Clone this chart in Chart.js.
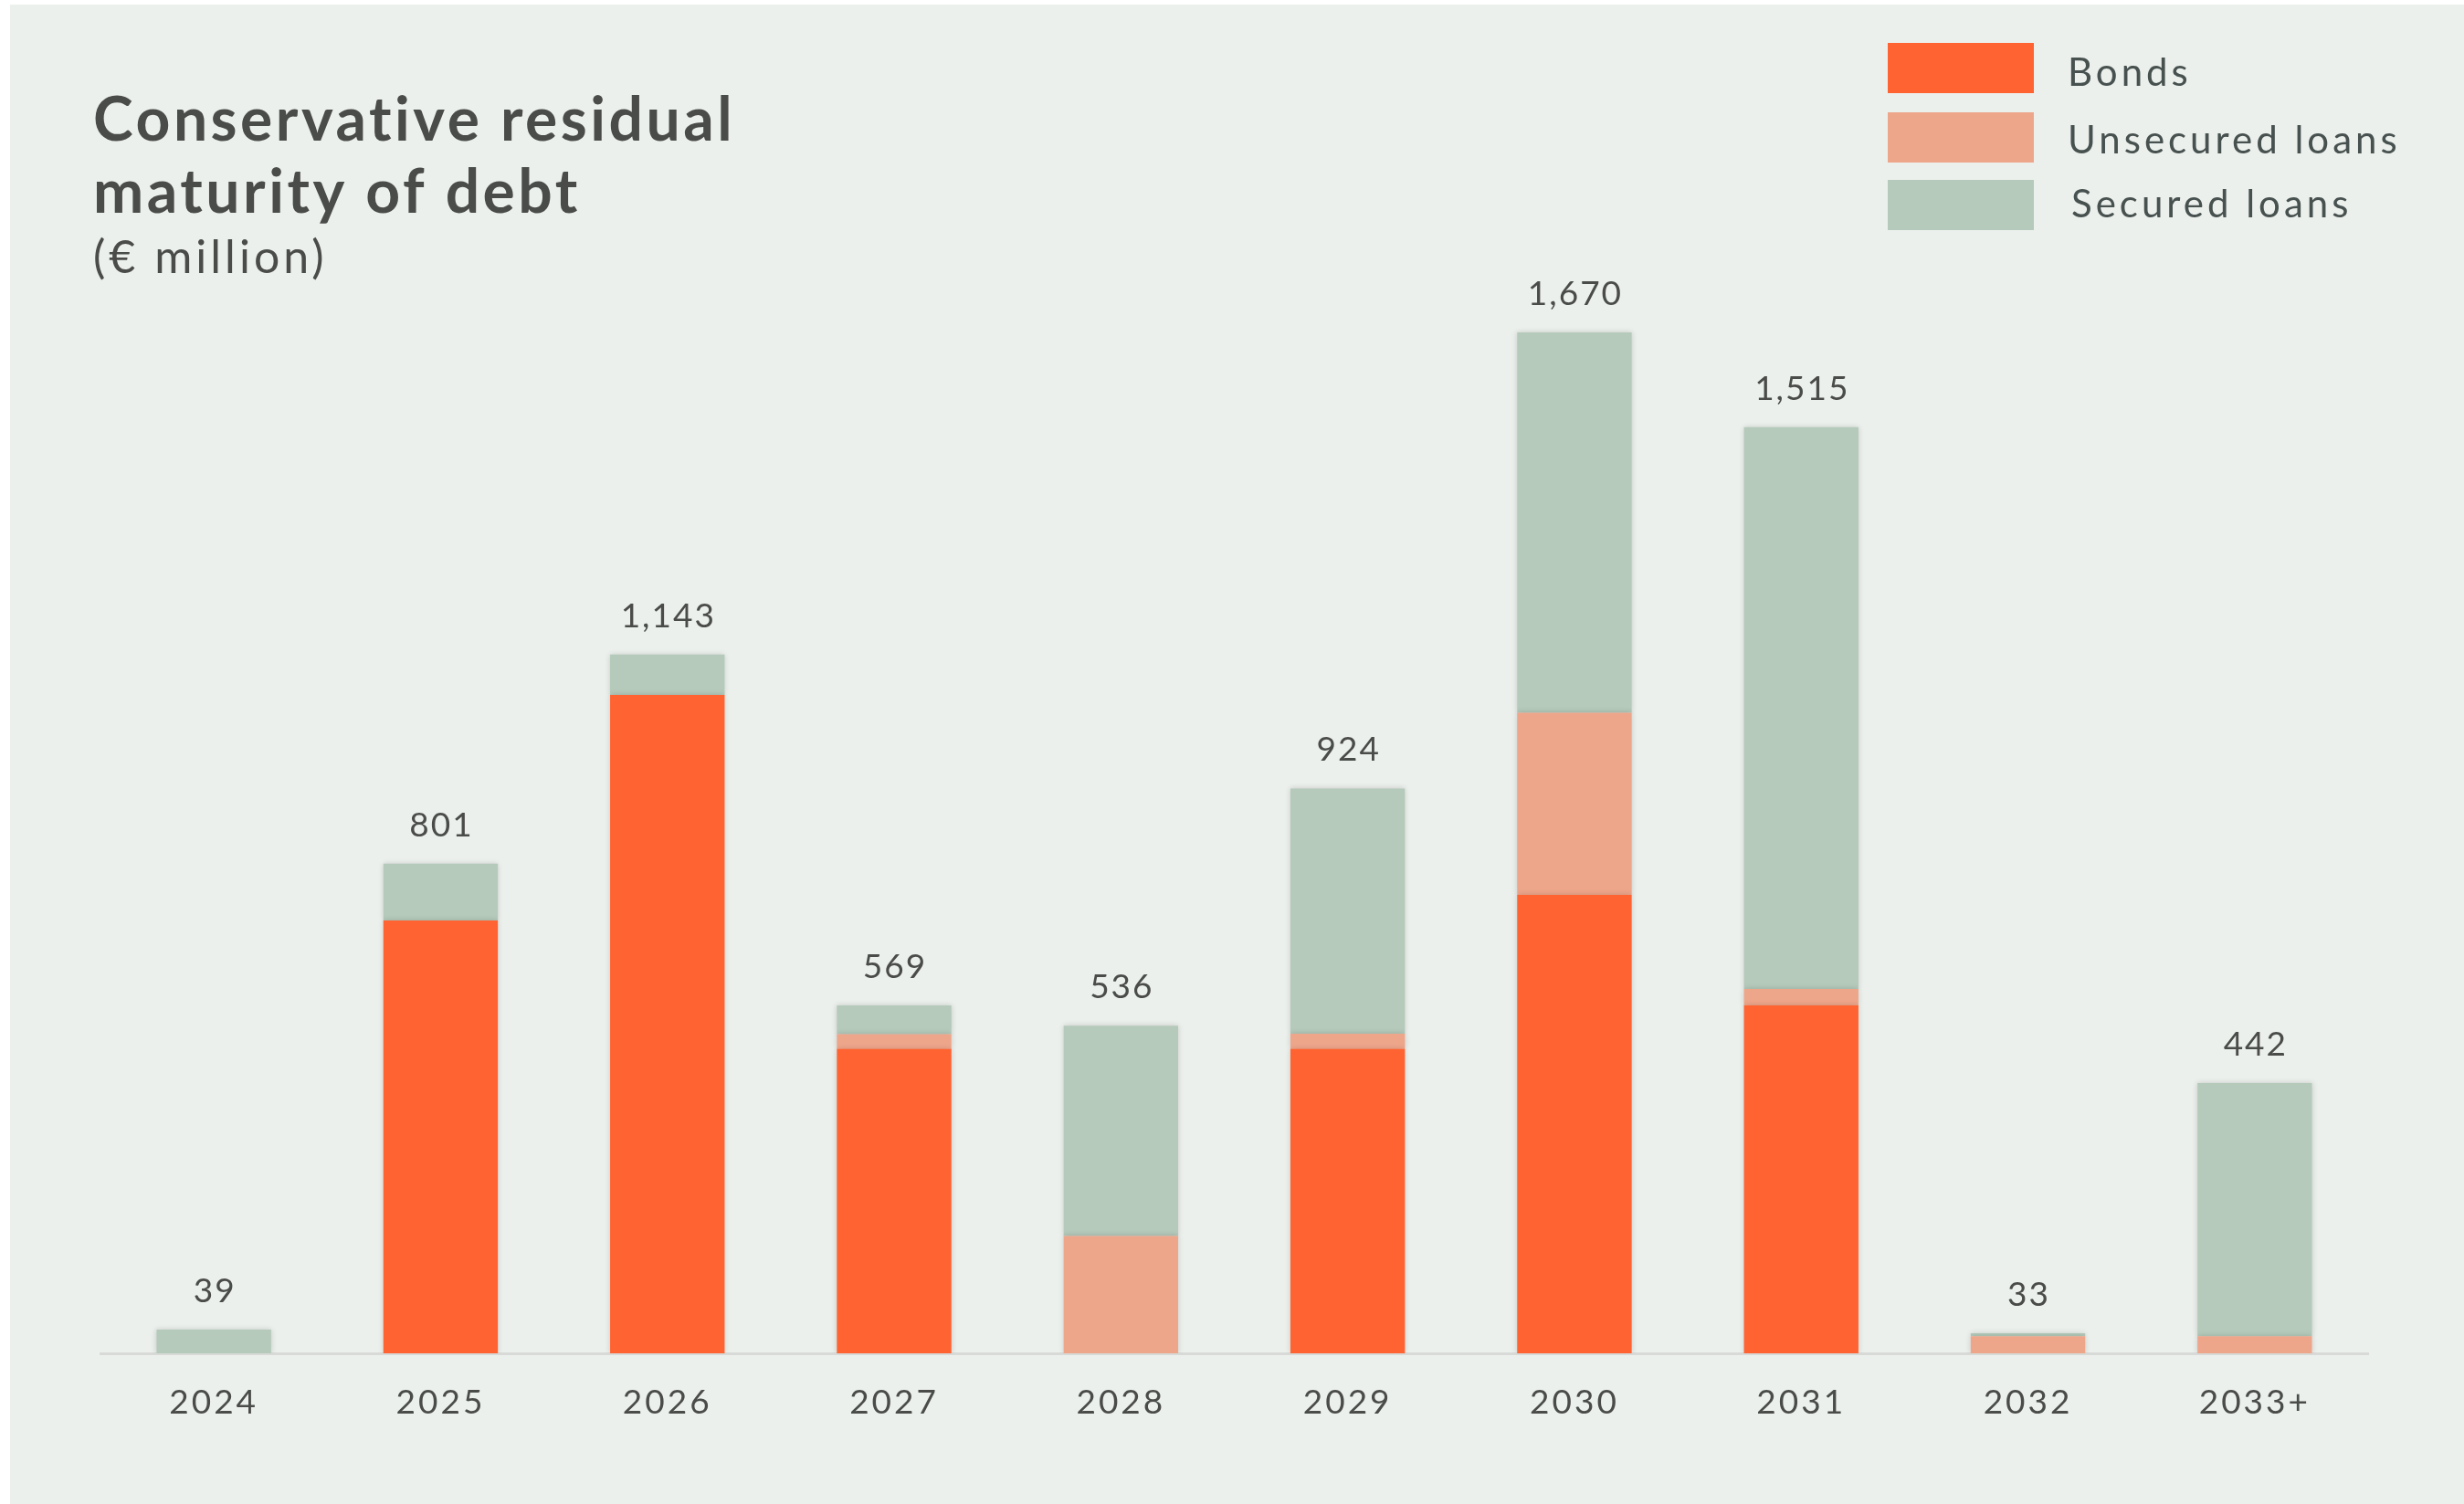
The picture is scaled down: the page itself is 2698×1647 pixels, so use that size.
<!DOCTYPE html>
<html>
<head>
<meta charset="utf-8">
<script src="https://cdn.jsdelivr.net/npm/chart.js@4.4.1/dist/chart.umd.min.js"></script>
<style>
  html, body { margin: 0; padding: 0; background: #ffffff; }
  #wrap { position: absolute; left: 11px; top: 5px; width: 2687px; height: 1642px; background: #ECF0EC; }
  canvas { display: block; }
</style>
</head>
<body>
<div id="wrap"><canvas id="grafico" width="2687" height="1642"></canvas></div>
<script>
// maturity buckets
const anos = ['2024', '2025', '2026', '2027', '2028', '2029', '2030', '2031', '2032', '2033+'];

// € million per year
const bonds     = [0, 708, 1077, 498, 0, 498, 750, 569, 0, 0];
const unsecured = [0, 0, 0, 24, 192, 25, 298, 27, 28, 28];
const secured   = [39, 93, 66, 47, 344, 401, 622, 919, 5, 414];

const nomes = ['Bonds', 'Unsecured loans', 'Secured loans'];
const cores = ['#FF6332', '#EEA68B', '#B5CABB'];

const FONTE = 'Lato, "Noto Sans", sans-serif';
const TEXTO = '#4A4C49';

// title, subtitle, legend and totals drawn on the canvas
const extras = {
    id: 'extras',
    beforeDraw(chart) {
        // tracking for the axis labels
        chart.ctx.letterSpacing = '3px';
    },
    beforeDatasetsDraw(chart) {
        const ctx = chart.ctx;
        ctx.save();
        ctx.shadowColor = 'rgba(0,0,0,0.16)';
        ctx.shadowBlur = 6;
    },
    afterDatasetsDraw(chart) {
        const ctx = chart.ctx;
        ctx.restore();

        // totals over each stacked bar
        const y = chart.scales.y;
        ctx.save();
        ctx.fillStyle = TEXTO;
        ctx.font = '37px ' + FONTE;
        ctx.letterSpacing = '2px';
        ctx.textAlign = 'center';
        ctx.textBaseline = 'middle';
        const meta = chart.getDatasetMeta(0);
        anos.forEach((a, i) => {
            const total = bonds[i] + unsecured[i] + secured[i];
            const x = meta.data[i].x + 1;
            ctx.fillText(total.toLocaleString('en-US'), x, y.getPixelForValue(total) - 42);
        });
        ctx.restore();
    },
    afterDraw(chart) {
        const ctx = chart.ctx;
        ctx.save();
        ctx.fillStyle = TEXTO;
        ctx.textAlign = 'left';
        ctx.textBaseline = 'alphabetic';
        ctx.font = 'bold 66px ' + FONTE;
        ctx.letterSpacing = '3.5px';
        ctx.fillText('Conservative residual', 91, 149);
        ctx.fillText('maturity of debt', 91, 228);
        ctx.font = '50px ' + FONTE;
        ctx.letterSpacing = '4px';
        ctx.fillText('(€ million)', 91, 294);

        // legend
        const tops = [42, 118, 192];
        const textY = [75, 149, 219];
        ctx.font = '42px ' + FONTE;
        ctx.letterSpacing = '4px';
        ctx.textBaseline = 'middle';
        nomes.forEach((n, i) => {
            ctx.fillStyle = cores[i];
            ctx.fillRect(2056, tops[i], 160, 55);
            ctx.fillStyle = '#47514F';
            ctx.fillText(n, i === 2 ? 2257 : 2253, textY[i]);
        });
        ctx.restore();
    }
};

const ctx = document.getElementById('grafico').getContext('2d');
new Chart(ctx, {
    type: 'bar',
    data: {
        labels: anos,
        datasets: [
            { label: nomes[0], data: bonds, backgroundColor: cores[0] },
            { label: nomes[1], data: unsecured, backgroundColor: cores[1] },
            { label: nomes[2], data: secured, backgroundColor: cores[2] }
        ]
    },
    options: {
        responsive: false,
        animation: false,
        layout: { padding: { left: 99, right: 105, top: 272, bottom: 85 } },
        datasets: { bar: { categoryPercentage: 1, barPercentage: 0.505, borderWidth: 0 } },
        plugins: {
            legend: { display: false },
            title: { display: false },
            tooltip: { enabled: false }
        },
        scales: {
            x: {
                stacked: true,
                grid: { display: false },
                border: { display: true, color: '#D8DAD7', width: 3 },
                ticks: { color: TEXTO, font: { family: FONTE, size: 37 }, padding: 24 },
                afterFit(s) { s.height = 80; }
            },
            y: {
                stacked: true,
                display: false,
                min: 0,
                max: 1800
            }
        }
    },
    plugins: [extras]
});
</script>
</body>
</html>
